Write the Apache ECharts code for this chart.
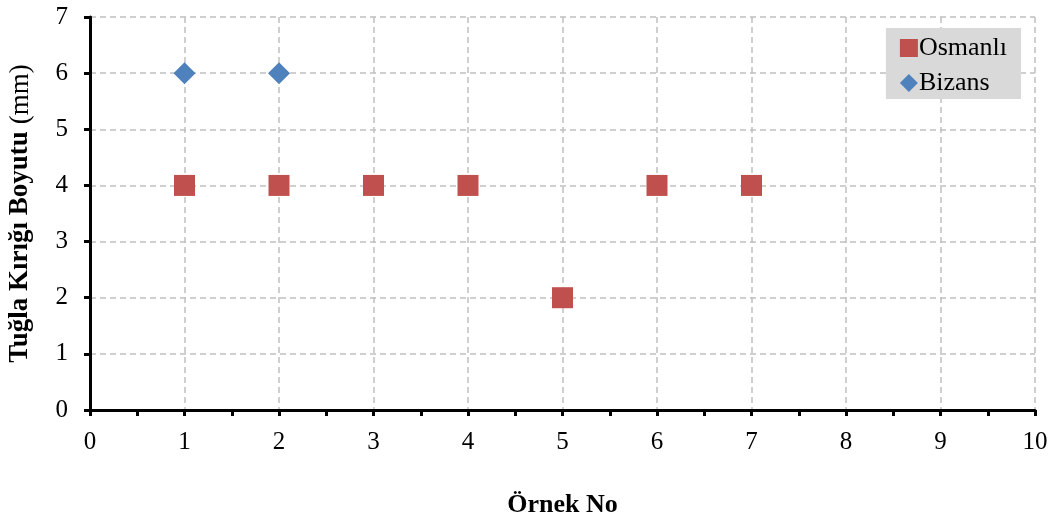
<!DOCTYPE html>
<html>
<head>
<meta charset="utf-8">
<script src="https://cdn.jsdelivr.net/npm/echarts@6/dist/echarts.min.js"></script>
<style>html,body{margin:0;padding:0;background:#fff}#c{width:1054px;height:522px}</style>
</head>
<body>
<div id="c"></div>
<script>
const osmanliX = [1, 2, 3, 4, 5, 6, 7];
const osmanliY = [4, 4, 4, 4, 2, 4, 4];
const bizansX = [1, 2];
const bizansY = [6, 6];
const xTitle = 'Örnek No';
const yTitleBold = 'Tuğla Kırığı Boyutu';
const yTitleUnit = '(mm)';

const font = '"Liberation Serif", "Times New Roman", serif';
const chart = echarts.init(document.getElementById('c'));
chart.setOption({
  animation: false,
  textStyle: { fontFamily: font },
  grid: { left: 90, right: 19, top: 17, bottom: 112, containLabel: false, outerBoundsMode: 'none' },
  legend: {
    orient: 'vertical',
    right: 33, top: 28,
    backgroundColor: '#d9d9d9',
    padding: [7, 14, 3, 14],
    itemGap: 9,
    itemWidth: 18, itemHeight: 18,
    textStyle: { fontFamily: font, fontSize: 26, color: '#000', padding: [0, 0, 0, -4] },
    data: [
      { name: 'Osmanlı', icon: 'rect' },
      { name: 'Bizans', icon: 'diamond' }
    ]
  },
  xAxis: {
    type: 'value', min: 0, max: 10, interval: 1,
    name: xTitle, nameLocation: 'middle', nameGap: 82,
    nameTextStyle: { fontFamily: font, fontSize: 26, fontWeight: 'bold', color: '#000' },
    axisLine: { show: true, onZero: false, lineStyle: { color: '#000', width: 3 } },
    axisTick: { show: true, length: 6, lineStyle: { color: '#000', width: 3 } },
    minorTick: { show: true, splitNumber: 2, length: 6, lineStyle: { color: '#000', width: 3 } },
    axisLabel: { fontFamily: font, fontSize: 25, color: '#000', margin: 20 },
    splitLine: { show: true, lineStyle: { color: '#c0c0c0', type: [6, 4], width: 1.5 } }
  },
  yAxis: {
    type: 'value', min: 0, max: 7, interval: 1,
    name: '{b|' + yTitleBold + '}{s| }{n|' + yTitleUnit + '}',
    nameLocation: 'middle', nameGap: 56, nameRotate: 90,
    nameTextStyle: {
      rich: {
        b: { fontFamily: font, fontSize: 27, fontWeight: 'bold', color: '#000' },
        s: { fontFamily: font, fontSize: 27, color: '#000', width: 7 },
        n: { fontFamily: font, fontSize: 27, color: '#000' }
      }
    },
    axisLine: { show: true, onZero: false, lineStyle: { color: '#000', width: 3 } },
    axisTick: { show: true, length: 6, lineStyle: { color: '#000', width: 3 } },
    axisLabel: { fontFamily: font, fontSize: 25, color: '#000', margin: 22 },
    splitLine: { show: true, lineStyle: { color: '#c0c0c0', type: [6, 4], width: 1.5 } }
  },
  series: [
    {
      name: 'Osmanlı', type: 'scatter', symbol: 'rect', symbolSize: 21,
      itemStyle: { color: '#C0504D', opacity: 1 },
      data: osmanliX.map((x, i) => [x, osmanliY[i]])
    },
    {
      name: 'Bizans', type: 'scatter', symbol: 'diamond', symbolSize: 22,
      itemStyle: { color: '#4F81BD', opacity: 1 },
      data: bizansX.map((x, i) => [x, bizansY[i]])
    }
  ]
});
</script>
</body>
</html>
